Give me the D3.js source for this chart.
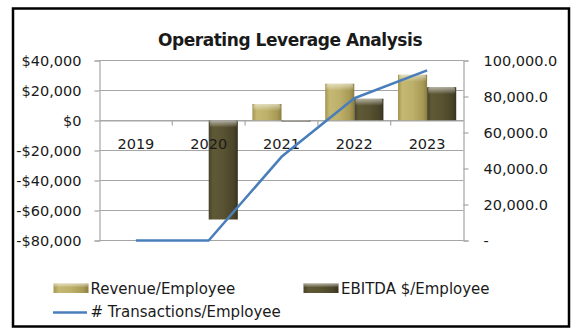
<!DOCTYPE html>
<html>
<head>
<meta charset="utf-8">
<script src="https://cdn.jsdelivr.net/npm/d3@7"></script>
<style>
  html, body { margin: 0; padding: 0; background: #fff; }
  svg { display: block; }
  text { font-family: "DejaVu Sans", sans-serif; fill: #1a1a1a; }
</style>
</head>
<body>
<svg id="chart" width="579" height="331"></svg>
<script>
// Chart data
const years = ["2019", "2020", "2021", "2022", "2023"];
const revenuePerEmployee = [0, 0, 11000, 24500, 30500];
const ebitdaPerEmployee = [0, -66000, -800, 14500, 22200];
const transactionsPerEmployee = [0, 0, 46500, 79000, 94500];
const leftTicks = [40000, 20000, 0, -20000, -40000, -60000, -80000];
const rightTicks = [100000, 80000, 60000, 40000, 20000, 0];
const seriesNames = ["Revenue/Employee", "EBITDA $/Employee", "# Transactions/Employee"];

const svg = d3.select("#chart");
const plot = { left: 99.5, right: 463.5, top: 60.5, bottom: 240.5 };

// Outer frame
svg.append("rect").attr("x", 13).attr("y", 8.5).attr("width", 556).attr("height", 318)
  .attr("fill", "#fff").attr("stroke", "#000").attr("stroke-width", 2.5);

// Title
svg.append("text").attr("x", 290).attr("y", 46).attr("text-anchor", "middle")
  .style("font-weight", "bold").style("font-size", "17px").style("letter-spacing", "-0.45px")
  .text("Operating Leverage Analysis");

// Scales
const x = d3.scaleBand().domain(years).range([plot.left, plot.right]).paddingInner(0).paddingOuter(0);
const sub = d3.scaleBand().domain(["rev", "ebitda"]).range([x.bandwidth() * 0.1, x.bandwidth() * 0.9]).padding(0);
const yL = d3.scaleLinear().domain([-80000, 40000]).range([plot.bottom, plot.top]);
const yR = d3.scaleLinear().domain([0, 100000]).range([plot.bottom, plot.top]);

// Gradients for the bevelled bars
const defs = svg.append("defs");
function faceGradient(id, stops) {
  const g = defs.append("linearGradient").attr("id", id).attr("x1", 0).attr("x2", 1).attr("y1", 0).attr("y2", 0);
  stops.forEach(([o, c]) => g.append("stop").attr("offset", o).attr("stop-color", c));
}
faceGradient("revFace", [[0, "#a39650"], [0.15, "#c4b872"], [0.5, "#bdb06a"], [0.85, "#a89a55"], [1, "#8a7e40"]]);
faceGradient("ebFace", [[0, "#47422a"], [0.15, "#5f5936"], [0.5, "#595332"], [0.85, "#4a4429"], [1, "#37331f"]]);
const bevel = defs.append("linearGradient").attr("id", "bevel").attr("x1", 0).attr("x2", 0).attr("y1", 0).attr("y2", 1);
bevel.append("stop").attr("offset", 0).attr("stop-color", "#fff").attr("stop-opacity", 0.55);
bevel.append("stop").attr("offset", 1).attr("stop-color", "#fff").attr("stop-opacity", 0);

// Grid lines
const grid = svg.append("g");
grid.selectAll("line").data(leftTicks).join("line")
  .attr("x1", plot.left).attr("x2", plot.right)
  .attr("y1", d => yL(d)).attr("y2", d => yL(d))
  .attr("stroke", "#a6a6a6").attr("stroke-width", 1.2);

// Left axis
const leftAxis = d3.axisLeft(yL).tickValues(leftTicks).tickSize(5).tickPadding(13)
  .tickFormat(d => (d < 0 ? "-$" : "$") + d3.format(",")(Math.abs(d)));
const gL = svg.append("g").attr("transform", `translate(${plot.left},0)`).call(leftAxis);
gL.select(".domain").attr("stroke", "#a6a6a6").attr("stroke-width", 1.2);
gL.selectAll(".tick line").attr("stroke", "#a6a6a6").attr("stroke-width", 1.2);
gL.selectAll(".tick text").style("font-size", "14.5px").attr("fill", "#1a1a1a");

// Right axis
const rightAxis = d3.axisRight(yR).tickValues(rightTicks).tickSize(5).tickPadding(15)
  .tickFormat(d => d === 0 ? "-" : d3.format(",.1f")(d));
const gR = svg.append("g").attr("transform", `translate(${plot.right},0)`).call(rightAxis);
gR.select(".domain").attr("stroke", "#a6a6a6").attr("stroke-width", 1.2);
gR.selectAll(".tick line").attr("stroke", "#a6a6a6").attr("stroke-width", 1.2);
gR.selectAll(".tick text").style("font-size", "14.5px").attr("fill", "#1a1a1a");

// Bars
const barData = [];
years.forEach((yr, i) => {
  barData.push({ yr, key: "rev", v: revenuePerEmployee[i] });
  barData.push({ yr, key: "ebitda", v: ebitdaPerEmployee[i] });
});
const bars = svg.append("g").selectAll("g").data(barData.filter(d => d.v !== 0)).join("g");
bars.append("rect")
  .attr("x", d => x(d.yr) + sub(d.key)).attr("width", sub.bandwidth())
  .attr("y", d => Math.min(yL(d.v), yL(0))).attr("height", d => Math.abs(yL(d.v) - yL(0)))
  .attr("fill", d => d.key === "rev" ? "url(#revFace)" : "url(#ebFace)");
bars.append("rect")
  .attr("x", d => x(d.yr) + sub(d.key) + 1).attr("width", sub.bandwidth() - 2)
  .attr("y", d => Math.min(yL(d.v), yL(0)))
  .attr("height", d => Math.min(7, Math.abs(yL(d.v) - yL(0))))
  .attr("rx", 2)
  .attr("fill", "url(#bevel)");

// Category axis along zero
const catAxis = d3.axisBottom(x).tickSize(0).tickPadding(0);
const gC = svg.append("g").attr("transform", `translate(0,${yL(0)})`).call(catAxis);
gC.select(".domain").attr("stroke", "#a6a6a6").attr("stroke-width", 1.2);
gC.selectAll(".tick text").attr("y", 18).attr("dy", "0.71em").style("font-size", "14.5px").attr("fill", "#1a1a1a");
svg.append("g").selectAll("line").data(years.slice(1)).join("line")
  .attr("x1", d => x(d)).attr("x2", d => x(d))
  .attr("y1", yL(0)).attr("y2", yL(0) + 5)
  .attr("stroke", "#a6a6a6").attr("stroke-width", 1.2);

// Transactions line on the secondary axis
const line = d3.line()
  .x((d, i) => x(years[i]) + x.bandwidth() / 2)
  .y(d => yR(d));
svg.append("path").datum(transactionsPerEmployee)
  .attr("d", line).attr("fill", "none")
  .attr("stroke", "#4a7ebb").attr("stroke-width", 2.6).attr("stroke-linejoin", "round");

// Legend
const legend = svg.append("g");
function swatch(xp, grad) {
  legend.append("rect").attr("x", xp).attr("y", 283.5).attr("width", 35).attr("height", 9.5).attr("fill", grad);
  legend.append("rect").attr("x", xp).attr("y", 283.5).attr("width", 35).attr("height", 4).attr("fill", "url(#bevel)");
}
swatch(53.5, "url(#revFace)");
legend.append("text").attr("x", 90.5).attr("y", 288.5).attr("dy", "0.36em").style("font-size", "15px").text(seriesNames[0]);
swatch(303.5, "url(#ebFace)");
legend.append("text").attr("x", 341).attr("y", 288.5).attr("dy", "0.36em").style("font-size", "15px").text(seriesNames[1]);
legend.append("line").attr("x1", 53).attr("x2", 87).attr("y1", 312.5).attr("y2", 312.5)
  .attr("stroke", "#4a7ebb").attr("stroke-width", 2.6);
legend.append("text").attr("x", 90.5).attr("y", 312).attr("dy", "0.36em").style("font-size", "15px").text(seriesNames[2]);
</script>
</body>
</html>
